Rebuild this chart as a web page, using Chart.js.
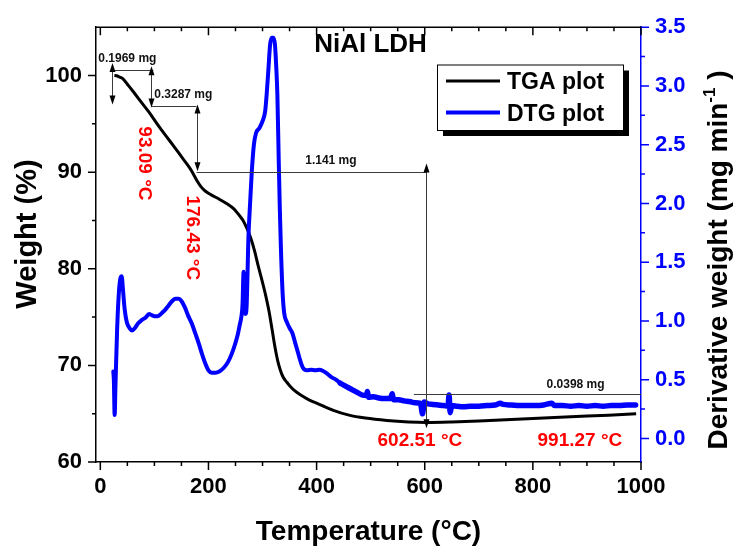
<!DOCTYPE html>
<html>
<head>
<meta charset="utf-8">
<title>NiAl LDH TGA / DTG</title>
<script src="https://cdn.jsdelivr.net/npm/chart.js@4.4.1/dist/chart.umd.min.js"></script>
<style>
  html, body { margin: 0; padding: 0; background: #fff; }
  #wrap { width: 736px; height: 552px; }
</style>
</head>
<body>
<div id="wrap"><canvas id="tgaChart" width="736" height="552"></canvas></div>
<script>
// TGA curve: temperature (°C) and weight (%) on the left axis
const tgaTemp = [26, 30, 35, 42, 50, 60, 75, 90, 105, 120, 135, 150, 160, 168, 174, 180, 186, 194, 205, 220,
  235, 247, 256, 264, 271, 278, 285, 292, 299, 306, 312, 318, 323, 328, 333, 338, 345, 351, 360, 370,
  385, 406, 431, 460, 490, 530, 570, 603, 650, 700, 760, 820, 880, 940, 991];
const tgaWeight = [100.0, 99.97, 99.85, 99.65, 99.1, 98.4, 97.3, 96.2, 95.0, 93.85, 92.75, 91.6, 90.85, 90.2, 89.6, 89.0, 88.5, 88.05, 87.65, 87.2,
  86.7, 86.2, 85.6, 85.0, 84.2, 83.2, 81.9, 80.3, 78.8, 77.2, 75.6, 73.6, 71.9, 70.5, 69.5, 68.8, 68.25, 67.85, 67.35, 66.95,
  66.45, 65.95, 65.35, 64.85, 64.55, 64.3, 64.15, 64.1, 64.15, 64.25, 64.4, 64.55, 64.7, 64.85, 65.0];

// DTG curve: temperature (°C) and derivative weight (mg/min) on the right axis
const dtgTemp = [24, 25, 26.5, 28, 31, 34, 37, 39.5, 42, 45, 49, 54, 59, 64, 70, 77, 84, 90, 95, 100,
  106, 112, 119, 126, 133, 139, 145, 150, 156, 162, 169, 176, 182, 188, 194, 200, 206, 213, 220, 228,
  236, 243, 249, 254, 258, 261, 263, 265, 266.5, 268.5, 270.5, 274, 277, 280, 284, 288, 294, 300, 305, 308,
  311, 314, 317, 320, 323, 325.5, 327.5, 330, 332, 334, 337, 340, 345, 350, 355, 360, 365, 370, 375, 382,
  390, 398, 405, 412, 420, 428, 436, 444, 452, 460, 468, 476, 484, 492, 494, 496, 505, 515, 525, 536,
  540, 542, 552, 562, 572, 582, 592, 596, 599, 606, 615, 625, 635, 643, 645, 647, 650, 660, 672, 685,
  700, 715, 730, 740, 745, 760, 775, 790, 805, 820, 835, 840, 855, 870, 885, 900, 915, 930, 945, 960,
  975, 990];
const dtgRate = [0.57, 0.50, 0.20, 0.45, 0.92, 1.22, 1.36, 1.38, 1.26, 1.10, 0.99, 0.94, 0.92, 0.94, 0.98, 1.01, 1.03, 1.06, 1.05, 1.04,
  1.04, 1.06, 1.09, 1.13, 1.17, 1.19, 1.19, 1.17, 1.12, 1.05, 0.98, 0.89, 0.81, 0.72, 0.64, 0.58, 0.56, 0.56, 0.57, 0.60,
  0.65, 0.72, 0.80, 0.88, 0.97, 1.04, 1.14, 1.42, 1.30, 1.06, 1.12, 1.72, 2.00, 2.26, 2.50, 2.60, 2.64, 2.70, 2.79, 2.95,
  3.15, 3.35, 3.41, 3.41, 3.35, 3.15, 2.92, 2.36, 1.95, 1.62, 1.25, 1.07, 0.99, 0.94, 0.90, 0.82, 0.74, 0.66, 0.60, 0.58,
  0.585, 0.58, 0.585, 0.575, 0.55, 0.52, 0.50, 0.47, 0.45, 0.43, 0.41, 0.39, 0.37, 0.365, 0.40, 0.35, 0.355, 0.345, 0.34, 0.34,
  0.38, 0.33, 0.33, 0.32, 0.315, 0.305, 0.30, 0.21, 0.31, 0.295, 0.29, 0.285, 0.28, 0.275, 0.37, 0.22, 0.28, 0.275, 0.27, 0.275,
  0.275, 0.28, 0.285, 0.30, 0.29, 0.285, 0.28, 0.28, 0.28, 0.285, 0.30, 0.28, 0.28, 0.275, 0.28, 0.275, 0.28, 0.275, 0.28, 0.28,
  0.285, 0.285];

// mass-loss guide lines [fromTemp, toTemp, weight] and double arrows [temp, topWeight, bottomWeight]
const guideLines = [[21, 98, 100.6], [94, 178, 96.85], [178, 603, 90.05], [580, 1000, 67.05]];
const guideArrows = [[21, 101.3, 97.0], [94, 100.95, 96.7], [178, 97.0, 90.1], [603, 90.9, 63.5]];
const massLabels = [['0.1969 mg', 50, 101.73], ['0.3287 mg', 153.5, 98.0], ['1.141 mg', 426.5, 91.22], ['0.0398 mg', 879, 68.05]];
const tempLabels = [['93.09 \u00B0C', 81, 90.9, true], ['176.43 \u00B0C', 170.3, 83.2, true],
  ['602.51 \u00B0C', 591, 62.15, false], ['991.27 \u00B0C', 887, 62.15, false]];

const FONT = "'Liberation Sans', Arial, Helvetica, sans-serif";
const BLUE = '#0000ff';
function bold(size) { return 'bold ' + size + 'px ' + FONT; }
function toPoints(xs, ys) { return xs.map((v, i) => ({ x: v, y: ys[i] })); }

// frame line at the top plus short/long tick marks on every axis
const tickMarks = {
  id: 'tickMarks',
  afterDraw(chart) {
    const { ctx, chartArea: a } = chart;
    const { x, y, y1 } = chart.scales;
    ctx.save();
    ctx.lineWidth = 1.5;
    ctx.strokeStyle = '#000';
    ctx.beginPath();
    ctx.moveTo(a.left, a.top);
    ctx.lineTo(a.right + 0.75, a.top);
    ctx.stroke();
    ctx.beginPath();
    x.ticks.forEach(t => {
      const px = x.getPixelForValue(t.value);
      const len = t.label !== '' ? 8 : 4;
      ctx.moveTo(px, a.bottom); ctx.lineTo(px, a.bottom + len);
      ctx.moveTo(px, a.top); ctx.lineTo(px, a.top + len);
    });
    y.ticks.forEach(t => {
      const py = y.getPixelForValue(t.value);
      if (py < a.top + 1) return;
      const len = t.label !== '' ? 8 : 4;
      ctx.moveTo(a.left, py); ctx.lineTo(a.left - len, py);
    });
    ctx.stroke();
    ctx.strokeStyle = BLUE;
    ctx.beginPath();
    y1.ticks.forEach(t => {
      const py = y1.getPixelForValue(t.value);
      const len = t.label !== '' ? 8 : 4;
      ctx.moveTo(a.right, py); ctx.lineTo(a.right + len, py);
    });
    ctx.stroke();
    ctx.restore();
  }
};

function arrowHead(ctx, px, py, dir) {
  ctx.beginPath();
  ctx.moveTo(px, py);
  ctx.lineTo(px - 3, py + dir * 9);
  ctx.lineTo(px + 3, py + dir * 9);
  ctx.closePath();
  ctx.fill();
}

// mass-loss brackets, temperature labels, title, legend and y titles
const notes = {
  id: 'notes',
  afterDatasetsDraw(chart) {
    const { ctx } = chart;
    const { x, y } = chart.scales;
    ctx.save();
    ctx.strokeStyle = '#3c3c3c';
    ctx.fillStyle = '#000';
    ctx.lineWidth = 1;
    guideLines.forEach(([t1, t2, w]) => {
      const py = Math.round(y.getPixelForValue(w)) + 0.5;
      ctx.beginPath();
      ctx.moveTo(x.getPixelForValue(t1), py);
      ctx.lineTo(x.getPixelForValue(t2), py);
      ctx.stroke();
    });
    guideArrows.forEach(([t, wTop, wBot]) => {
      const px = Math.round(x.getPixelForValue(t)) + 0.5;
      const top = y.getPixelForValue(wTop), bot = y.getPixelForValue(wBot);
      ctx.beginPath();
      ctx.moveTo(px, top + 4); ctx.lineTo(px, bot - 4);
      ctx.stroke();
      arrowHead(ctx, px, top, 1);
      arrowHead(ctx, px, bot, -1);
    });
    ctx.font = bold(12);
    ctx.textAlign = 'center';
    ctx.textBaseline = 'middle';
    ctx.fillStyle = '#111';
    massLabels.forEach(([txt, t, w]) => ctx.fillText(txt, x.getPixelForValue(t), y.getPixelForValue(w)));

    ctx.font = bold(19);
    ctx.fillStyle = '#ff0000';
    tempLabels.forEach(([txt, t, w, rotated]) => {
      ctx.save();
      ctx.translate(x.getPixelForValue(t), y.getPixelForValue(w));
      if (rotated) ctx.rotate(Math.PI / 2);
      ctx.fillText(txt, 0, 0);
      ctx.restore();
    });
    ctx.restore();
  },
  afterDraw(chart) {
    const { ctx } = chart;
    ctx.save();
    // title
    ctx.fillStyle = '#000';
    ctx.font = bold(26);
    ctx.textAlign = 'center';
    ctx.textBaseline = 'alphabetic';
    ctx.fillText('NiAl LDH', 370.5, 52);

    // legend box with drop shadow
    const bx = 437, by = 64.5, bw = 186, bh = 65.5;
    ctx.fillStyle = '#000';
    ctx.fillRect(bx + 6, by + 6, bw, bh);
    ctx.fillStyle = '#fff';
    ctx.fillRect(bx, by, bw, bh);
    ctx.strokeStyle = '#000';
    ctx.lineWidth = 1;
    ctx.strokeRect(bx + 0.5, by + 0.5, bw, bh);
    const rows = [81, 112.5];
    chart.data.datasets.forEach((ds, i) => {
      ctx.strokeStyle = ds.borderColor;
      ctx.lineWidth = ds.borderWidth;
      ctx.beginPath();
      ctx.moveTo(446, rows[i]);
      ctx.lineTo(500, rows[i]);
      ctx.stroke();
      ctx.fillStyle = '#000';
      ctx.font = bold(23);
      ctx.textAlign = 'left';
      ctx.textBaseline = 'alphabetic';
      ctx.fillText(ds.label, 507, rows[i] + 8);
    });

    // left axis title
    ctx.font = bold(29);
    ctx.textAlign = 'center';
    ctx.fillStyle = '#000';
    ctx.save();
    ctx.translate(36, 234);
    ctx.rotate(-Math.PI / 2);
    ctx.fillText('Weight (%)', 0, 0);
    ctx.restore();

    // right axis title with superscript
    const main = 'Derivative weight (mg min';
    const sup = '-1';
    const tail = ' )';
    ctx.font = bold(28);
    const w1 = ctx.measureText(main).width, w3 = ctx.measureText(tail).width;
    ctx.font = bold(17);
    const w2 = ctx.measureText(sup).width;
    const total = w1 + w2 + w3;
    ctx.save();
    ctx.translate(727, 260);
    ctx.rotate(-Math.PI / 2);
    ctx.textAlign = 'left';
    let cx = -total / 2;
    ctx.font = bold(28);
    ctx.fillText(main, cx, 0);
    cx += w1;
    ctx.font = bold(17);
    ctx.fillText(sup, cx, -12);
    cx += w2;
    ctx.font = bold(28);
    ctx.fillText(tail, cx, 0);
    ctx.restore();
    ctx.restore();
  }
};

Chart.defaults.font.family = FONT;
Chart.defaults.color = '#000';

new Chart(document.getElementById('tgaChart'), {
  type: 'line',
  data: {
    datasets: [
      {
        label: 'TGA plot',
        data: toPoints(tgaTemp, tgaWeight),
        yAxisID: 'y',
        borderColor: '#000000',
        borderWidth: 3,
        pointRadius: 0,
        cubicInterpolationMode: 'monotone',
        order: 1
      },
      {
        label: 'DTG plot',
        data: toPoints(dtgTemp, dtgRate),
        yAxisID: 'y1',
        borderColor: BLUE,
        borderWidth: 4,
        borderJoinStyle: 'round',
        borderCapStyle: 'round',
        pointRadius: 0,
        cubicInterpolationMode: 'monotone',
        // noisy tail of the measurement reads as a thicker trace
        segment: { borderWidth: c => (c.p0.parsed.x > 440 ? 5.5 : 4) },
        order: 0
      }
    ]
  },
  options: {
    responsive: false,
    animation: false,
    layout: { padding: { top: 22, left: 0, right: 0, bottom: 0 } },
    plugins: { legend: { display: false }, tooltip: { enabled: false } },
    scales: {
      x: {
        type: 'linear',
        position: 'bottom',
        min: -8,
        max: 1000,
        afterFit: s => { s.height = 90; },
        grid: { drawOnChartArea: false, drawTicks: false },
        border: { display: true, color: '#000', width: 1.5 },
        ticks: {
          stepSize: 50,
          autoSkip: false,
          includeBounds: false,
          maxRotation: 0,
          padding: 12,
          font: { size: 22, weight: 'bold' },
          color: '#000',
          callback: v => (v % 200 === 0 ? String(v) : '')
        },
        title: {
          display: true,
          text: 'Temperature (\u00B0C)',
          font: { size: 28, weight: 'bold' },
          color: '#000',
          padding: { top: 0, bottom: 3 }
        }
      },
      y: {
        type: 'linear',
        position: 'left',
        min: 60,
        max: 105,
        afterFit: s => { s.width = 96; },
        grid: { drawOnChartArea: false, drawTicks: false },
        border: { display: true, color: '#000', width: 1.5 },
        ticks: {
          stepSize: 5,
          autoSkip: false,
          includeBounds: false,
          padding: 14,
          font: { size: 22, weight: 'bold' },
          color: '#000',
          callback: v => (v % 10 === 0 ? String(v) : '')
        }
      },
      y1: {
        type: 'linear',
        position: 'right',
        min: -0.2,
        max: 3.5,
        afterFit: s => { s.width = 95; },
        grid: { drawOnChartArea: false, drawTicks: false },
        border: { display: true, color: BLUE, width: 1.5 },
        ticks: {
          stepSize: 0.25,
          autoSkip: false,
          includeBounds: false,
          padding: 14,
          font: { size: 22, weight: 'bold' },
          color: BLUE,
          callback: v => (Math.abs(v * 2 - Math.round(v * 2)) < 1e-6 ? v.toFixed(1) : '')
        }
      }
    }
  },
  plugins: [tickMarks, notes]
});
</script>
</body>
</html>
